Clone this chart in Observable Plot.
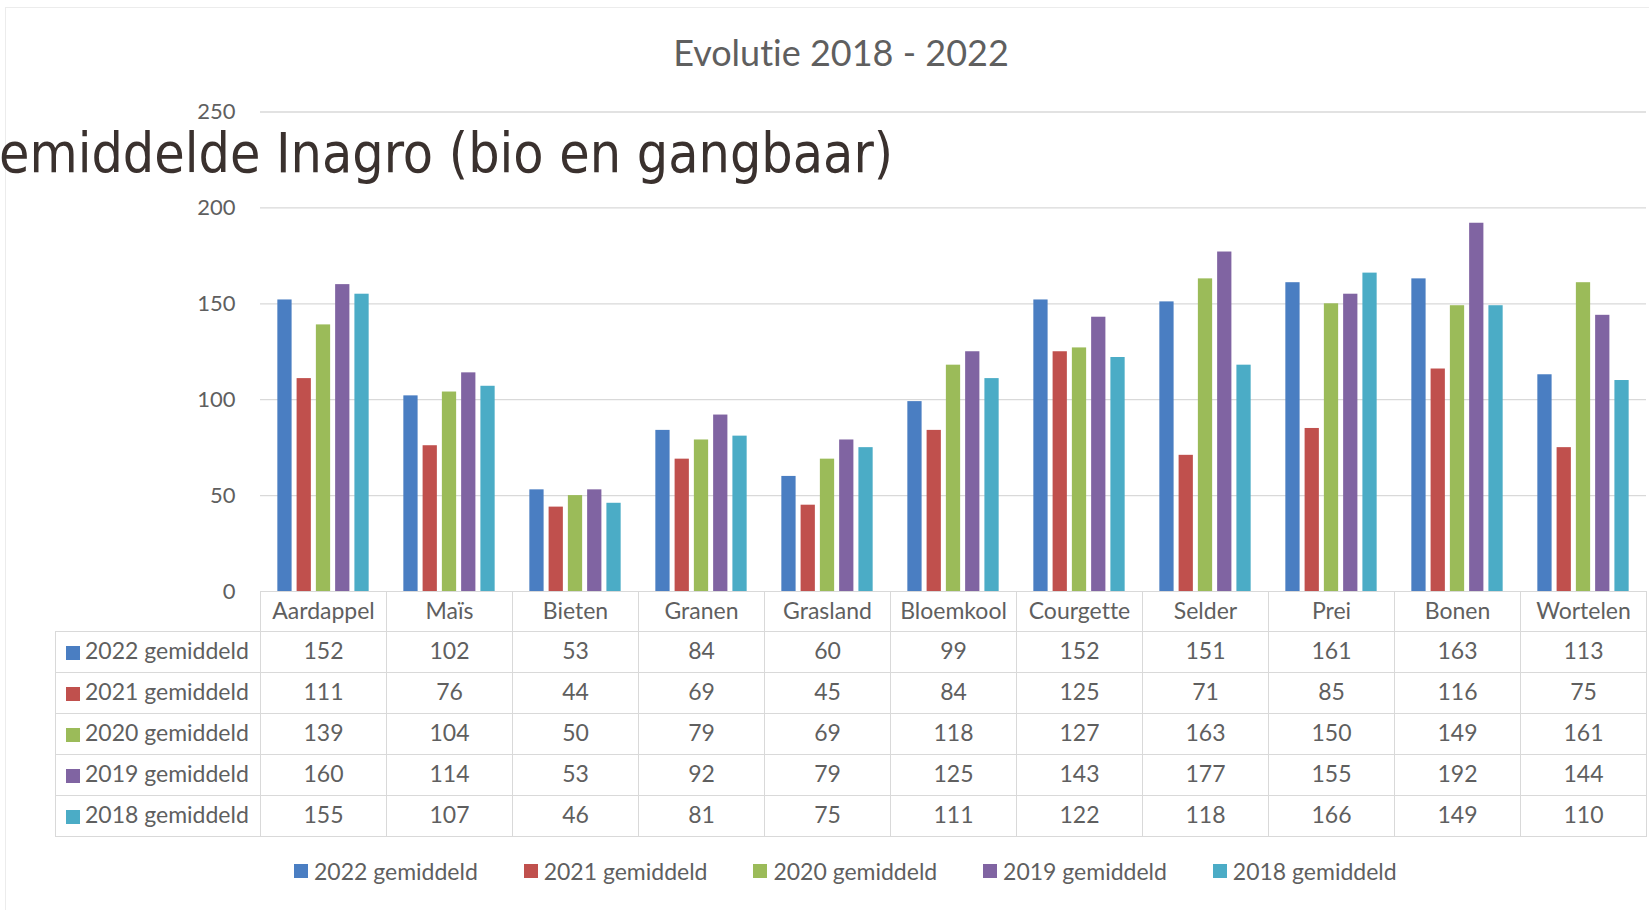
<!DOCTYPE html>
<html>
<head>
<meta charset="utf-8">
<script src="https://cdn.jsdelivr.net/npm/d3@7"></script>
<script src="https://cdn.jsdelivr.net/npm/@observablehq/plot@0.6"></script>
<style>
  html, body { margin: 0; padding: 0; background: #ffffff; }
  #page { position: relative; width: 1649px; height: 910px; overflow: hidden; background: #fff; font-family: Lato, "Liberation Sans", sans-serif; font-variant-ligatures: none; }
  #frame { position: absolute; left: 5px; top: 7px; width: 1700px; height: 1000px; border-left: 1px solid #ececec; border-top: 1px solid #ececec; }
  #chart { position: absolute; left: 0; top: 0; }
  #tbl { position: absolute; left: 55px; top: 591px; border-collapse: collapse; table-layout: fixed; color: #5f5f5f; font-size: 23px; font-family: Lato, sans-serif; }
  #tbl td { border: 1px solid #d9d9d9; text-align: center; padding: 0 0 4px 0; white-space: nowrap; overflow: hidden; }
  #tbl td.lab { text-align: left; padding-left: 10px; }
  #tbl td.blank { border-top: none; border-left: none; }
  .sw { display: inline-block; width: 14px; height: 14px; margin-right: 5px; vertical-align: -1px; }
  #legend { position: absolute; left: 0; top: 855px; width: 1649px; height: 32px; color: #5f5f5f; font-size: 23px; font-family: Lato, sans-serif; }
  .li { position: absolute; top: 0; height: 32px; display: flex; align-items: center; white-space: nowrap; }
  .li .sw { margin-right: 6px; vertical-align: 0; }
  #overlay { position: absolute; left: 0; top: 0; pointer-events: none; font-variant-ligatures: none; }
</style>
</head>
<body>
<div id="page">
  <div id="frame"></div>
  <div id="chart"></div>
  <table id="tbl"></table>
  <div id="legend"></div>
  <svg id="overlay" width="1649" height="910"></svg>
</div>
<script>
// ---- data ----
const title = "Evolutie 2018 - 2022";
const overlayText = "emiddelde Inagro (bio en gangbaar)";
const categories = ["Aardappel","Maïs","Bieten","Granen","Grasland","Bloemkool","Courgette","Selder","Prei","Bonen","Wortelen"];
const series = ["2022 gemiddeld","2021 gemiddeld","2020 gemiddeld","2019 gemiddeld","2018 gemiddeld"];
const colors = ["#4A7EC2","#C0504D","#9BBB59","#8064A2","#4BACC6"];
const v2022 = [152,102,53,84,60,99,152,151,161,163,113];
const v2021 = [111,76,44,69,45,84,125,71,85,116,75];
const v2020 = [139,104,50,79,69,118,127,163,150,149,161];
const v2019 = [160,114,53,92,79,125,143,177,155,192,144];
const v2018 = [155,107,46,81,75,111,122,118,166,149,110];
const yTicks = [0,50,100,150,200,250];

const values = [v2022, v2021, v2020, v2019, v2018];
const data = categories.flatMap((c, i) => series.map((s, j) => ({category: c, series: s, value: values[j][i]})));

// ---- chart ----
const chart = Plot.plot({
  width: 1649,
  height: 610,
  marginLeft: 260,
  marginRight: 3,
  marginTop: 111.5,
  marginBottom: 19,
  style: {background: "transparent", fontFamily: "Lato, sans-serif", fontSize: "22px", color: "#5f5f5f", overflow: "visible"},
  fx: {domain: categories, paddingInner: 0, paddingOuter: 0, axis: null, round: false},
  x: {domain: series, paddingInner: 0.26, paddingOuter: 0.9, axis: null, round: false},
  y: {domain: [0, 250], ticks: yTicks, tickSize: 0, tickPadding: 25, label: null},
  color: {domain: series, range: colors},
  marks: [
    Plot.ruleY(yTicks.slice(1), {stroke: "#d9d9d9", strokeWidth: 1.3}),
    Plot.barY(data, {fx: "category", x: "series", y: "value", fill: "series"})
  ]
});
document.getElementById("chart").appendChild(chart);

// ---- table ----
const tbl = document.getElementById("tbl");
const colg = document.createElement("colgroup");
[205, ...categories.map(() => 126)].forEach(w => { const c = document.createElement("col"); c.style.width = w + "px"; colg.appendChild(c); });
tbl.appendChild(colg);
const hr = document.createElement("tr");
hr.style.height = "40px";
const blank = document.createElement("td"); blank.className = "blank"; hr.appendChild(blank);
categories.forEach(c => { const td = document.createElement("td"); td.textContent = c; hr.appendChild(td); });
tbl.appendChild(hr);
series.forEach((s, j) => {
  const tr = document.createElement("tr");
  tr.style.height = "41px";
  const lab = document.createElement("td"); lab.className = "lab";
  const sw = document.createElement("span"); sw.className = "sw"; sw.style.background = colors[j];
  lab.appendChild(sw); lab.appendChild(document.createTextNode(s));
  tr.appendChild(lab);
  values[j].forEach(v => { const td = document.createElement("td"); td.textContent = v; tr.appendChild(td); });
  tbl.appendChild(tr);
});

// ---- legend ----
const lg = document.getElementById("legend");
series.forEach((s, j) => {
  const it = document.createElement("div"); it.className = "li";
  it.style.left = (294 + j * 229.7) + "px";
  const sw = document.createElement("span"); sw.className = "sw"; sw.style.background = colors[j];
  it.appendChild(sw); it.appendChild(document.createTextNode(s));
  lg.appendChild(it);
});

// ---- overlay texts ----
const ov = d3.select("#overlay");
ov.append("text").attr("x", 841).attr("y", 66).attr("text-anchor", "middle")
  .attr("fill", "#5f5f5f").style("font-family", "Lato, sans-serif").style("font-size", "36px").text(title);
ov.append("text").attr("x", -1).attr("y", 172)
  .attr("fill", "#3a312e").style("font-family", "'DejaVu Sans Condensed', 'DejaVu Sans', sans-serif")
  .style("font-stretch", "condensed").style("font-size", "55px").text(overlayText);
</script>
</body>
</html>
